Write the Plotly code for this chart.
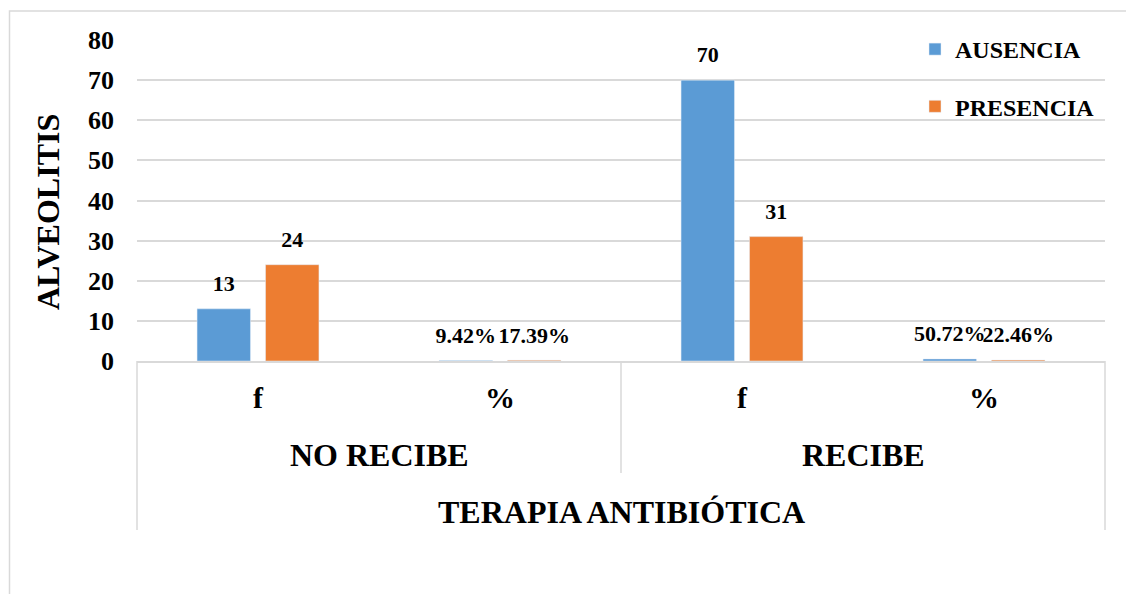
import plotly.graph_objects as go

# ---- data ----
groups = ["NO RECIBE", "NO RECIBE", "RECIBE", "RECIBE"]
subcats = ["f", "%", "f", "%"]
ausencia = [13, 0.0942, 70, 0.5072]
presencia = [24, 0.1739, 31, 0.2246]
series_names = ["AUSENCIA", "PRESENCIA"]
colors = ["#5B9BD5", "#ED7D31"]
y_ticks = [0, 10, 20, 30, 40, 50, 60, 70, 80]
x_title = "TERAPIA ANTIBIÓTICA"
y_title = "ALVEOLITIS"

FONT = "Liberation Serif"
GRID = "#D9D9D9"
OFF = 8  # page offset of the figure inside the browser window


def labels(vals, subs):
    return [f"{v * 100:.2f}%" if s == "%" else f"{v:g}" for v, s in zip(vals, subs)]


cat_keys = [f"{g} · {s}" for g, s in zip(groups, subcats)]

fig = go.Figure()
for name, vals, col, grp in zip(series_names, [ausencia, presencia], colors, ["a", "b"]):
    fig.add_trace(go.Bar(
        x=cat_keys, y=vals, name=name, marker_color=col,
        legendgroup=grp, offsetgroup=grp,
    ))
# data labels, grouped like the bars, sitting a little above each bar
for name, vals, grp in zip(series_names, [ausencia, presencia], ["a", "b"]):
    fig.add_trace(go.Scatter(
        x=cat_keys, y=vals, mode="markers+text", offsetgroup=grp,
        marker=dict(size=18, opacity=0, color="white"),
        text=labels(vals, subcats), textposition="top center", cliponaxis=False,
        textfont=dict(family=FONT, size=22, color="black", weight="bold"),
        showlegend=False, hoverinfo="skip", name=name,
    ))

W, H = 1134, 594
L, T = 137 - OFF, 40 - OFF
R = W - (1105 - OFF)
B = H - (361 - OFF)
pw, ph = W - L - R, H - T - B


def px(xs):
    return (xs - OFF - L) / pw


def py(ys):
    return (H - B - (ys - OFF)) / ph


fig.update_layout(
    width=W, height=H,
    margin=dict(l=L, r=R, t=T, b=B, autoexpand=False),
    paper_bgcolor="white", plot_bgcolor="white",
    barmode="group", bargap=0.434, bargroupgap=0.22,
    scattermode="group", scattergap=0.434,
    font=dict(family=FONT, color="black", weight="bold"),
    showlegend=True,
    legend=dict(x=px(915), y=py(27), xanchor="left", yanchor="top",
                bgcolor="rgba(0,0,0,0)", tracegroupgap=23, itemwidth=30,
                font=dict(family=FONT, size=24, color="black", weight="bold")),
    yaxis=dict(range=[0, 80], tickvals=y_ticks, showgrid=True, gridcolor=GRID, gridwidth=1.5,
               zeroline=False, showline=False, ticks="", ticklabelstandoff=22,
               tickfont=dict(family=FONT, size=26, color="black", weight="bold")),
    xaxis=dict(type="category", categoryorder="array", categoryarray=cat_keys,
               tickvals=cat_keys, ticktext=subcats, range=[-0.5, len(cat_keys) - 0.5],
               showline=True, linecolor=GRID, linewidth=1.5, ticks="", ticklabelstandoff=9,
               tickfont=dict(family=FONT, size=30, color="black", weight="bold")),
)

# value-axis title
fig.add_annotation(text=y_title, xref="paper", yref="paper", x=px(48), y=py(212),
                   textangle=-90, showarrow=False, xanchor="center", yanchor="middle",
                   font=dict(family=FONT, size=32, color="black", weight="bold"))

# group labels (second category level) centred over their categories
uniq = list(dict.fromkeys(groups))
for g in uniq:
    idx = [i for i, gg in enumerate(groups) if gg == g]
    fig.add_annotation(text=g, xref="x", yref="paper", x=(idx[0] + idx[-1]) / 2, y=py(455),
                       showarrow=False, xanchor="center", yanchor="middle",
                       font=dict(family=FONT, size=32, color="black", weight="bold"))
    if idx[0] > 0:
        fig.add_shape(type="line", xref="x", yref="paper", x0=idx[0] - 0.5, x1=idx[0] - 0.5,
                      y0=0, y1=py(473), line=dict(color=GRID, width=1.5))

fig.add_annotation(text=x_title, xref="paper", yref="paper", x=0.5, y=py(512),
                   showarrow=False, xanchor="center", yanchor="middle",
                   font=dict(family=FONT, size=32, color="black", weight="bold"))

# chart border and outer category separators
fig.add_shape(type="rect", xref="paper", yref="paper", x0=px(9.5), x1=px(1130.5),
              y0=py(640), y1=py(11), line=dict(color=GRID, width=1.5), layer="below")
for xp in (0, 1):
    fig.add_shape(type="line", xref="paper", yref="paper", x0=xp, x1=xp,
                  y0=0, y1=py(530), line=dict(color=GRID, width=1.5))

fig.write_html("out.html")
